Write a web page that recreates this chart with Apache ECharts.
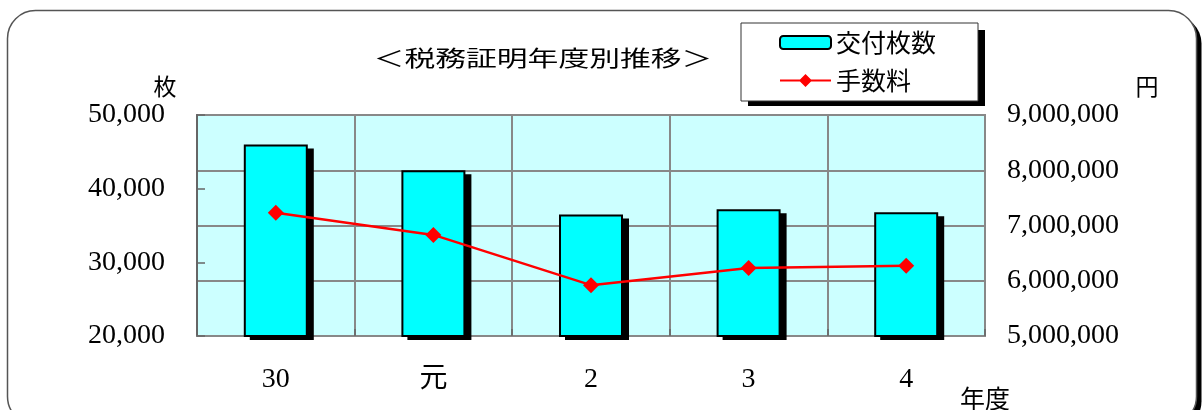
<!DOCTYPE html>
<html>
<head>
<meta charset="utf-8">
<script src="https://cdn.jsdelivr.net/npm/echarts@6/dist/echarts.min.js"></script>
<style>
html,body{margin:0;padding:0;background:#fff;}
#c{width:1202px;height:410px;}
</style>
</head>
<body>
<div id="c"></div>
<script>
// ---- data ----
var categories = ['30', '元', '2', '3', '4'];
var issuedCount = [46000, 42500, 36500, 37200, 36800];   // 交付枚数 (枚)
var feeAmount = [7230000, 6830000, 5920000, 6230000, 6270000]; // 手数料 (円)
var leftTicks = { min: 20000, max: 50000, interval: 10000 };
var rightTicks = { min: 5000000, max: 9000000, interval: 1000000 };

var serif = "'Liberation Serif', 'Noto Sans CJK JP', serif";
var cjk = "'Noto Sans CJK JP', sans-serif";
var BAR_W = 64;

var chart = echarts.init(document.getElementById('c'), null, { renderer: 'canvas' });

function fmt(v) { return String(v).replace(/\B(?=(\d{3})+(?!\d))/g, ','); }

var shadowData = categories.map(function (c, i) { return [i, issuedCount[i]]; });

chart.setOption({
  animation: false,
  backgroundColor: 'transparent',
  graphic: [
    {
      type: 'rect', z: -101, silent: true,
      shape: { x: 12.5, y: 15.5, width: 1189, height: 414, r: 28 },
      style: { fill: '#000' }
    },
    {
      type: 'rect', z: -100, silent: true,
      shape: { x: 7.5, y: 10.5, width: 1189, height: 414, r: 28 },
      style: { fill: '#fff', stroke: '#555', lineWidth: 1.5 }
    },
    {
      type: 'rect', z: 3, silent: true,
      shape: { x: 748, y: 30, width: 237, height: 76 },
      style: { fill: '#000' }
    },
    {
      type: 'text', x: 543, y: 58, scaleX: 1.4, z: 10,
      style: { text: '＜税務証明年度別推移＞', fontSize: 22, fontFamily: cjk,
               fill: '#000', textAlign: 'center', textVerticalAlign: 'middle' }
    },
    {
      type: 'text', x: 165, y: 86, z: 10,
      style: { text: '枚', fontSize: 23, fontFamily: cjk, fill: '#000',
               textAlign: 'center', textVerticalAlign: 'middle' }
    },
    {
      type: 'text', x: 1147, y: 86, z: 10,
      style: { text: '円', fontSize: 23, fontFamily: cjk, fill: '#000',
               textAlign: 'center', textVerticalAlign: 'middle' }
    },
    {
      type: 'text', x: 985, y: 398, z: 10,
      style: { text: '年度', fontSize: 25, fontFamily: cjk, fill: '#000',
               textAlign: 'center', textVerticalAlign: 'middle' }
    }
  ],
  legend: {
    orient: 'vertical',
    left: 741, top: 23,
    padding: [7, 42, 8, 38],
    itemGap: 13,
    itemWidth: 51, itemHeight: 13,
    backgroundColor: '#fff',
    borderColor: '#333', borderWidth: 1,
    textStyle: { fontSize: 25, fontFamily: cjk, color: '#000' },
    data: [
      { name: '交付枚数' },
      { name: '手数料', icon: 'path://M0,5.6 H51 V7.4 H0 Z M25.5,0 L32,6.5 L25.5,13 L19,6.5 Z' }
    ]
  },
  grid: {
    left: 197, right: 217, top: 115, bottom: 74,
    show: true, backgroundColor: '#ccffff',
    borderColor: '#888', borderWidth: 2
  },
  xAxis: {
    type: 'category',
    data: categories,
    boundaryGap: true,
    axisLine: { show: true, lineStyle: { color: '#888', width: 2 } },
    axisTick: { show: true, inside: true, length: 7, lineStyle: { color: '#666', width: 1.5 } },
    splitLine: { show: true, lineStyle: { color: '#888', width: 2 } },
    axisLabel: { fontSize: 28, fontFamily: serif, color: '#000', margin: 30 }
  },
  yAxis: [
    {
      type: 'value',
      min: leftTicks.min, max: leftTicks.max, interval: leftTicks.interval,
      axisLine: { show: true, lineStyle: { color: '#666', width: 2 } },
      axisTick: { show: true, inside: true, length: 8, lineStyle: { color: '#666', width: 1.5 } },
      splitLine: { show: false },
      axisLabel: { fontSize: 28, fontFamily: serif, color: '#000', margin: 32,
                   formatter: function (v) { return fmt(v); } }
    },
    {
      type: 'value',
      min: rightTicks.min, max: rightTicks.max, interval: rightTicks.interval,
      axisLine: { show: true, lineStyle: { color: '#888', width: 2 } },
      axisTick: { show: false },
      splitLine: { show: true, lineStyle: { color: '#888', width: 2 } },
      axisLabel: { fontSize: 28, fontFamily: serif, color: '#000', margin: 22,
                   formatter: function (v) { return fmt(v); } }
    }
  ],
  series: [
    {
      name: 'shadow',
      type: 'custom',
      yAxisIndex: 0,
      silent: true,
      clip: false,
      z: 1,
      data: shadowData,
      encode: { x: 0, y: 1 },
      renderItem: function (params, api) {
        var top = api.coord([api.value(0), api.value(1)]);
        var bottom = api.coord([api.value(0), leftTicks.min]);
        return {
          type: 'rect',
          shape: { x: top[0] - BAR_W / 2 + 6, y: top[1] + 4, width: BAR_W, height: bottom[1] - top[1] },
          style: { fill: '#000' }
        };
      }
    },
    {
      name: '交付枚数',
      type: 'bar',
      yAxisIndex: 0,
      data: issuedCount,
      barWidth: BAR_W,
      itemStyle: { color: '#00ffff', borderColor: '#000', borderWidth: 2 },
      z: 2
    },
    {
      name: '手数料',
      type: 'line',
      yAxisIndex: 1,
      data: feeAmount,
      symbol: 'diamond',
      symbolSize: 16,
      lineStyle: { color: '#ff0000', width: 2.5 },
      itemStyle: { color: '#ff0000' },
      z: 5
    }
  ]
});
</script>
</body>
</html>
